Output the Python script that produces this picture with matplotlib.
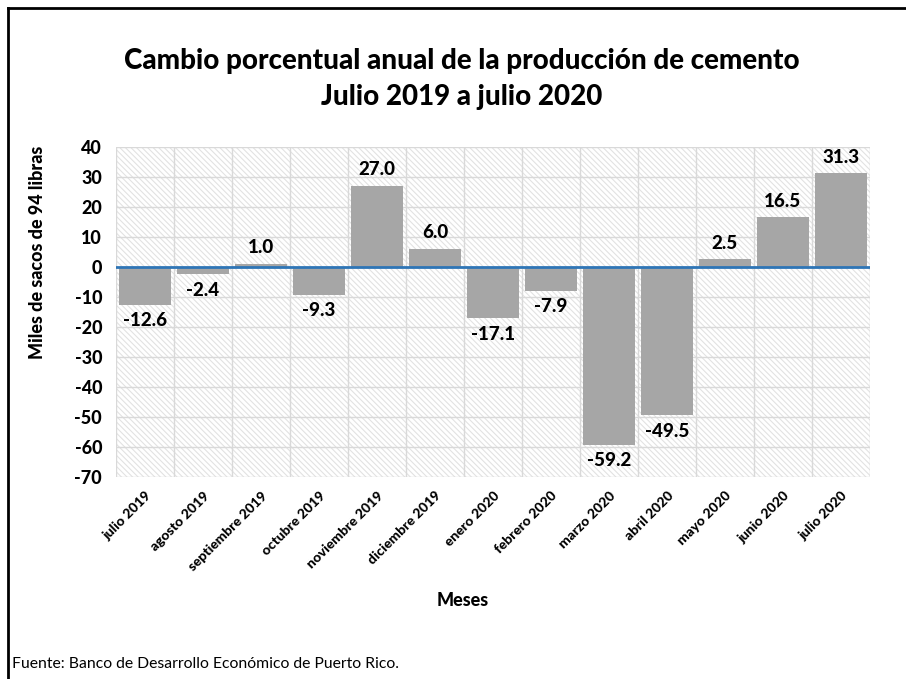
import matplotlib
matplotlib.use("Agg")
import matplotlib.pyplot as plt
import numpy as np

plt.rcParams["font.family"] = ["Lato", "DejaVu Sans"]
plt.rcParams["hatch.color"] = "#e2e2e2"
plt.rcParams["hatch.linewidth"] = 0.8

MESES = ["julio 2019", "agosto 2019", "septiembre 2019", "octubre 2019",
         "noviembre 2019", "diciembre 2019", "enero 2020", "febrero 2020",
         "marzo 2020", "abril 2020", "mayo 2020", "junio 2020", "julio 2020"]
CAMBIO = [-12.6, -2.4, 1.0, -9.3, 27.0, 6.0, -17.1, -7.9,
          -59.2, -49.5, 2.5, 16.5, 31.3]
Y_TICKS = list(range(-70, 41, 10))

PESO = "black"

fig = plt.figure(figsize=(9.06, 6.79), dpi=100)
ax = fig.add_axes([116 / 906, 1 - 477 / 679, (870 - 116) / 906, (477 - 147) / 679])

x = np.arange(len(MESES))
ax.set_xlim(-0.5, len(MESES) - 0.5)
ax.set_ylim(-70, 40)

# fondo rayado
ax.add_patch(plt.Rectangle((-0.5, -70), len(MESES), 110, facecolor="white",
                           edgecolor="#e2e2e2", hatch="\\" * 6, lw=0, zorder=0))
for yv in Y_TICKS:
    ax.axhline(yv, color="#d9d9d9", lw=1, zorder=1)
for xv in np.arange(-0.5, len(MESES) + 0.5, 1):
    ax.axvline(xv, color="#d9d9d9", lw=1, zorder=1)

ax.bar(x, CAMBIO, width=0.88, color="#a6a6a6", zorder=2)
ax.axhline(0, color="#2e75b6", lw=2, zorder=3)

for xi, v in zip(x, CAMBIO):
    if v >= 0:
        ax.text(xi, v + 2.5, f"{v:.1f}", ha="center", va="bottom",
                fontsize=13.5, fontweight=PESO, zorder=4)
    else:
        ax.text(xi, v - 2.5, f"{v:.1f}", ha="center", va="top",
                fontsize=13.5, fontweight=PESO, zorder=4)

for s in ax.spines.values():
    s.set_visible(False)
ax.set_yticks(Y_TICKS)
ax.set_yticklabels([str(t) for t in Y_TICKS], fontsize=13, fontweight=PESO)
ax.set_xticks(x)
ax.set_xticklabels(MESES, rotation=45, ha="right", rotation_mode="anchor",
                   fontsize=10, fontweight=PESO)
ax.tick_params(axis="x", length=0, pad=9)
ax.tick_params(axis="y", length=0, pad=10)

fig.text(38 / 906, 1 - 252 / 679, "Miles de sacos de 94 libras", rotation=90,
         ha="center", va="center", fontsize=13, fontweight=PESO)
fig.text(463 / 906, 1 - 600 / 679, "Meses", ha="center", va="center",
         fontsize=13, fontweight=PESO)

fig.text(462 / 906, 1 - 79 / 679,
         "Cambio porcentual anual de la producción de cemento\nJulio 2019 a julio 2020",
         ha="center", va="center", fontsize=20, fontweight=PESO, linespacing=1.45)

fig.text(12 / 906, 1 - 664 / 679, "Fuente: Banco de Desarrollo Económico de Puerto Rico.",
         ha="left", va="center", fontsize=11.3)

# marco exterior (izquierda y arriba)
fig.add_artist(plt.Line2D([8 / 906, 8 / 906], [0, 1 - 8 / 679], color="black", lw=2))
fig.add_artist(plt.Line2D([8 / 906, 1], [1 - 8 / 679, 1 - 8 / 679], color="black", lw=2))

fig.savefig("out.png", dpi=100)
plt.close(fig)
